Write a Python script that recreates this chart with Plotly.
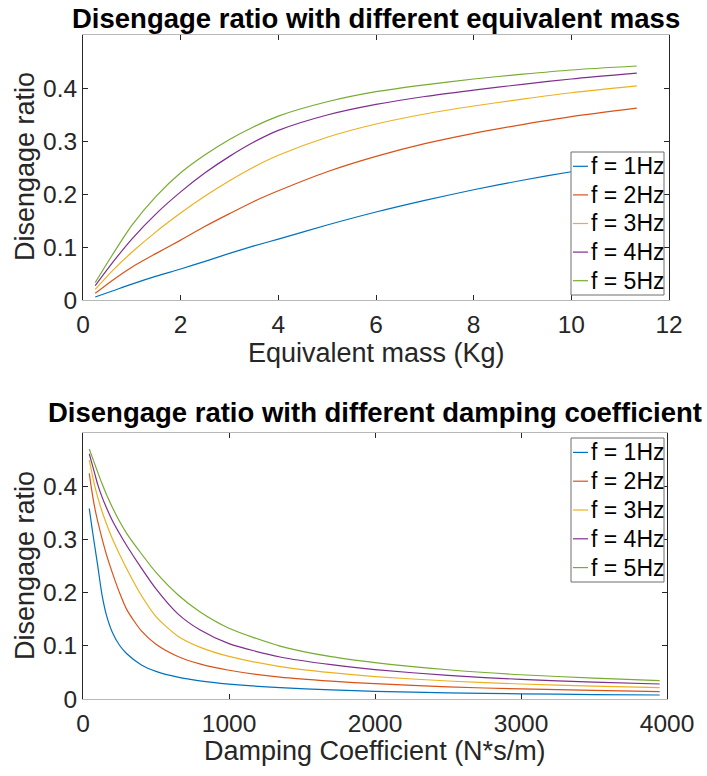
import plotly.graph_objects as go

# ---------------- data ----------------
freq_labels = ["f = 1Hz", "f = 2Hz", "f = 3Hz", "f = 4Hz", "f = 5Hz"]
colors = ["#0072BD", "#D95319", "#EDB120", "#7E2F8E", "#77AC30"]

mass_x = [0.25, 0.6, 1, 1.5, 2, 2.5, 3, 3.5, 4, 5, 6, 7, 8, 9, 10, 11.34]
mass_f1 = [0.0057, 0.017, 0.030, 0.045, 0.0585, 0.073, 0.088, 0.102, 0.115, 0.1415, 0.166, 0.188, 0.208, 0.226, 0.242, 0.262]
mass_f2 = [0.0126, 0.037, 0.062, 0.088, 0.113, 0.139, 0.163, 0.186, 0.206, 0.242, 0.271, 0.295, 0.3145, 0.331, 0.346, 0.362]
mass_f3 = [0.020, 0.055, 0.090, 0.129, 0.164, 0.196, 0.225, 0.251, 0.273, 0.307, 0.332, 0.351, 0.366, 0.379, 0.391, 0.404]
mass_f4 = [0.027, 0.070, 0.115, 0.163, 0.204, 0.240, 0.271, 0.298, 0.320, 0.349, 0.369, 0.384, 0.396, 0.407, 0.417, 0.428]
mass_f5 = [0.033, 0.085, 0.141, 0.196, 0.240, 0.274, 0.303, 0.327, 0.347, 0.374, 0.393, 0.406, 0.417, 0.426, 0.434, 0.4415]

damp_x = [43, 60, 80, 100, 130, 160, 200, 250, 300, 400, 500, 650, 800, 1000, 1350, 1700, 2000, 2500, 3000, 3500, 3950]
damp_f1 = [0.358, 0.325, 0.288, 0.252, 0.196, 0.158, 0.126, 0.101, 0.085, 0.064, 0.052, 0.041, 0.0340, 0.0280, 0.0213, 0.0170, 0.0145, 0.0117, 0.0097, 0.0084, 0.0075]
damp_f2 = [0.424, 0.392, 0.360, 0.335, 0.302, 0.272, 0.238, 0.200, 0.168, 0.128, 0.103, 0.080, 0.0660, 0.0540, 0.0410, 0.0335, 0.0288, 0.0228, 0.0189, 0.0161, 0.0140]
damp_f3 = [0.449, 0.426, 0.401, 0.380, 0.353, 0.330, 0.302, 0.272, 0.2445, 0.1945, 0.155, 0.118, 0.0975, 0.0800, 0.0610, 0.0495, 0.0422, 0.0338, 0.0282, 0.0243, 0.0213]
damp_f4 = [0.461, 0.444, 0.424, 0.404, 0.380, 0.360, 0.336, 0.311, 0.288, 0.246, 0.207, 0.160, 0.1300, 0.1040, 0.0790, 0.0645, 0.0553, 0.0443, 0.0368, 0.0318, 0.0282]
damp_f5 = [0.470, 0.457, 0.442, 0.427, 0.405, 0.385, 0.361, 0.334, 0.311, 0.273, 0.238, 0.196, 0.1640, 0.1330, 0.0995, 0.0795, 0.0685, 0.0550, 0.0456, 0.0393, 0.0345]

mass_ticks = [0, 2, 4, 6, 8, 10, 12]
damp_ticks = [0, 1000, 2000, 3000, 4000]
ratio_ticks = [0, 0.1, 0.2, 0.3, 0.4]
ratio_ticktext = ["0", "0.1", "0.2", "0.3", "0.4"]

title_top = "Disengage ratio with different equivalent mass"
title_bottom = "Disengage ratio with different damping coefficient"
xlabel_top = "Equivalent mass (Kg)"
xlabel_bottom = "Damping Coefficient (N*s/m)"
ylabel = "Disengage ratio"

# ---------------- figure ----------------
W, H = 707, 776
FONT = "Liberation Sans, Arial, Helvetica, sans-serif"
TXT = "#262626"

fig = go.Figure()
mass_series = [mass_f1, mass_f2, mass_f3, mass_f4, mass_f5]
damp_series = [damp_f1, damp_f2, damp_f3, damp_f4, damp_f5]
for lab, col, ys in zip(freq_labels, colors, mass_series):
    fig.add_trace(go.Scatter(x=mass_x, y=ys, mode="lines", name=lab, showlegend=False,
                             line=dict(color=col, width=1.2, shape="spline", smoothing=0.8),
                             xaxis="x", yaxis="y"))
for lab, col, ys in zip(freq_labels, colors, damp_series):
    fig.add_trace(go.Scatter(x=damp_x, y=ys, mode="lines", name=lab, showlegend=False,
                             line=dict(color=col, width=1.2, shape="spline", smoothing=0.7),
                             xaxis="x2", yaxis="y2"))


def px_x(p):
    return p / W


def px_y(p):
    return 1 - p / H


common_x = dict(showline=True, linecolor="#b8b8b8", linewidth=1, mirror="ticks",
                ticks="inside", ticklen=5, tickcolor=TXT, tickwidth=1,
                showgrid=False, zeroline=False, automargin=False, ticklabelstandoff=3,
                tickfont=dict(family=FONT, size=24.5, color=TXT))
common_y = dict(showline=True, linecolor=TXT, linewidth=1, mirror="ticks",
                ticks="inside", ticklen=5, tickcolor=TXT, tickwidth=1,
                showgrid=False, zeroline=False, automargin=False,
                tickfont=dict(family=FONT, size=24.5, color=TXT))

fig.update_layout(
    template="none",
    width=W, height=H, autosize=False,
    margin=dict(l=0, r=0, t=0, b=0, pad=0, autoexpand=False),
    paper_bgcolor="white", plot_bgcolor="white",
    showlegend=False,
    xaxis=dict(domain=[px_x(83), px_x(669)], range=[0, 12], tickvals=mass_ticks,
               anchor="y", **common_x),
    yaxis=dict(domain=[px_y(300), px_y(35)], range=[0, 0.5], tickvals=ratio_ticks,
               ticktext=ratio_ticktext, anchor="x", **common_y),
    xaxis2=dict(domain=[px_x(83), px_x(667)], range=[0, 4000], tickvals=damp_ticks,
                anchor="y2", **common_x),
    yaxis2=dict(domain=[px_y(699), px_y(433)], range=[0, 0.5], tickvals=ratio_ticks,
                ticktext=ratio_ticktext, anchor="x2", **common_y),
)

ann = []
shapes = []
ann.append(dict(text="<b>" + title_top + "</b>", x=px_x(376), y=px_y(18), xref="paper", yref="paper",
                showarrow=False, xanchor="center", yanchor="middle",
                font=dict(family=FONT, size=27.5, color="black")))
ann.append(dict(text="<b>" + title_bottom + "</b>", x=px_x(375), y=px_y(412), xref="paper", yref="paper",
                showarrow=False, xanchor="center", yanchor="middle",
                font=dict(family=FONT, size=27.5, color="black")))
ann.append(dict(text=xlabel_top, x=px_x(376), y=px_y(353), xref="paper", yref="paper",
                showarrow=False, xanchor="center", yanchor="middle",
                font=dict(family=FONT, size=27, color=TXT)))
ann.append(dict(text=xlabel_bottom, x=px_x(375), y=px_y(751), xref="paper", yref="paper",
                showarrow=False, xanchor="center", yanchor="middle",
                font=dict(family=FONT, size=27, color=TXT)))
ann.append(dict(text=ylabel, x=px_x(25), y=px_y(167), xref="paper", yref="paper",
                showarrow=False, xanchor="center", yanchor="middle", textangle=-90,
                font=dict(family=FONT, size=27, color=TXT)))
ann.append(dict(text=ylabel, x=px_x(25), y=px_y(566), xref="paper", yref="paper",
                showarrow=False, xanchor="center", yanchor="middle", textangle=-90,
                font=dict(family=FONT, size=27, color=TXT)))

# legend boxes (MATLAB style: short line sample + label)
for top, bottom in [(152, 295), (438, 582)]:
    shapes.append(dict(type="rect", xref="paper", yref="paper",
                       x0=px_x(571), x1=px_x(664), y0=px_y(bottom), y1=px_y(top),
                       line=dict(color="#6e6e6e", width=1), fillcolor="white", layer="above"))
    step = (bottom - top) / 5.0
    for i, (lab, col) in enumerate(zip(freq_labels, colors)):
        yc = top + step * (i + 0.5)
        shapes.append(dict(type="line", xref="paper", yref="paper",
                           x0=px_x(573), x1=px_x(588), y0=px_y(yc), y1=px_y(yc),
                           line=dict(color=col, width=1.2), layer="above"))
        ann.append(dict(text=lab, x=px_x(589), y=px_y(yc), xref="paper", yref="paper",
                        showarrow=False, xanchor="left", yanchor="middle",
                        font=dict(family=FONT, size=23, color="black")))

fig.update_layout(annotations=ann, shapes=shapes)

fig.write_html("out.html", config={"responsive": False})
